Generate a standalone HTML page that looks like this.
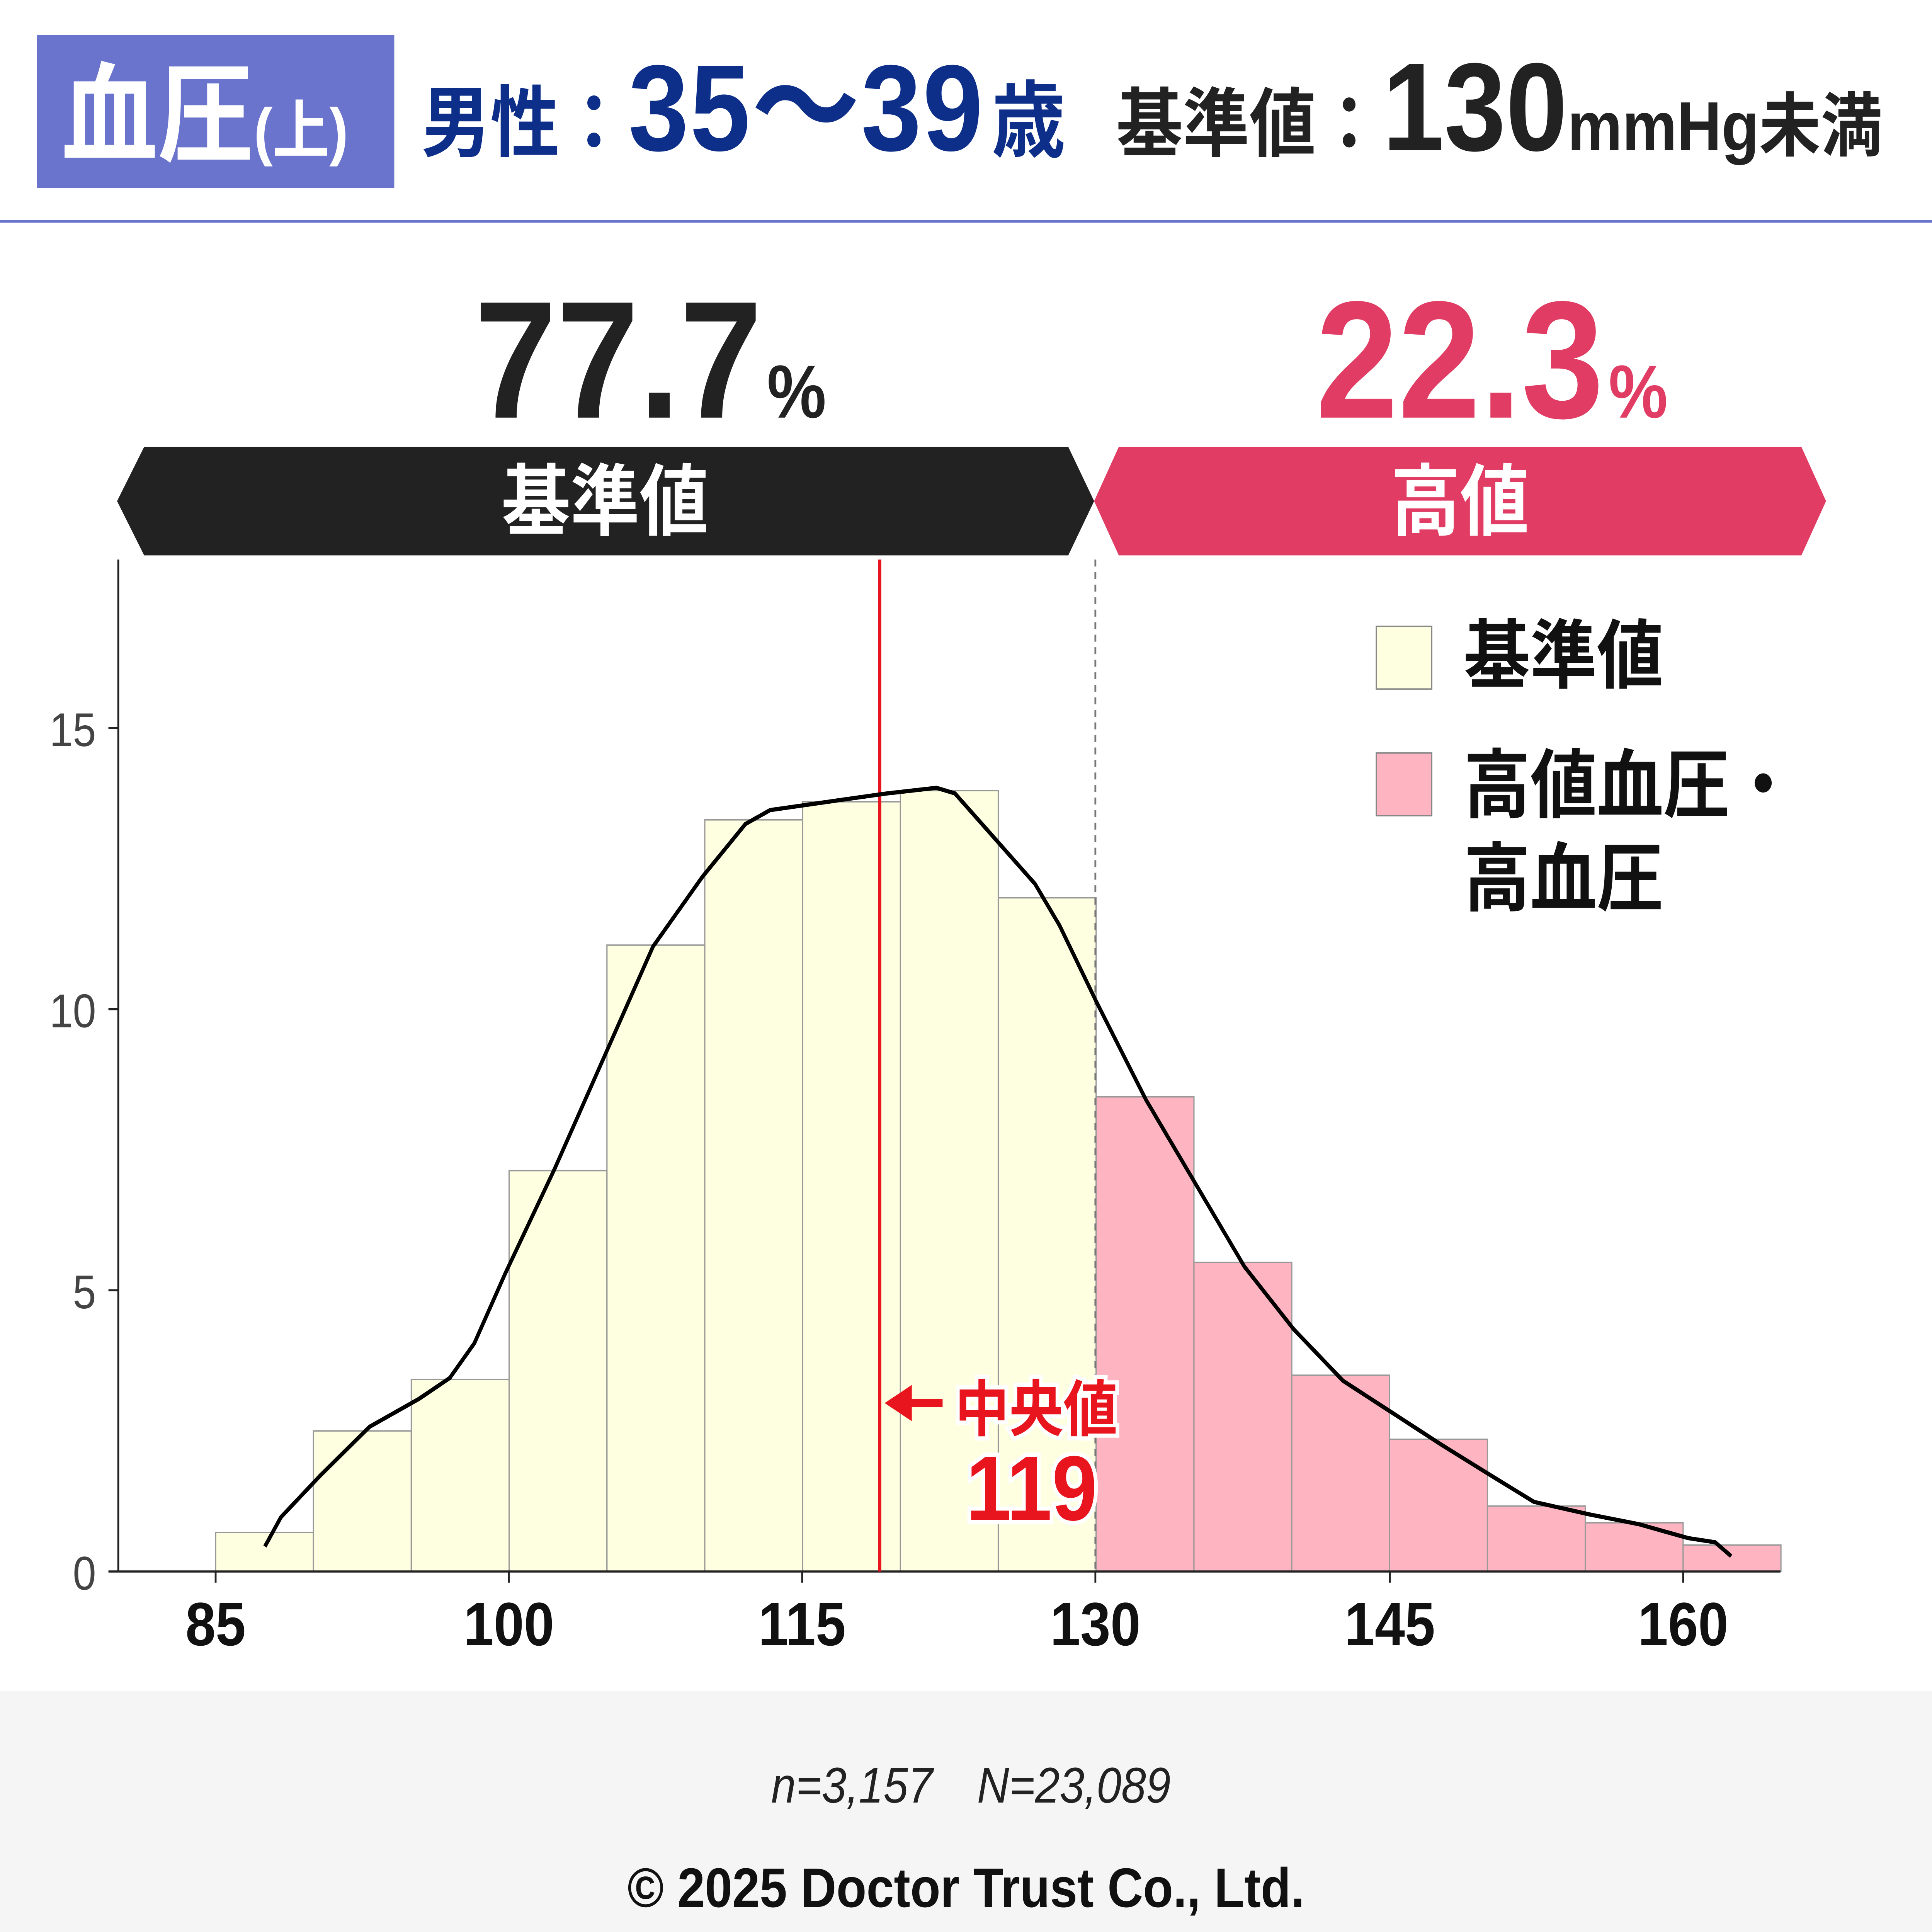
<!DOCTYPE html>
<html><head><meta charset="utf-8"><style>html,body{margin:0;padding:0;background:#fff;width:100%;height:100%;overflow:hidden}svg{display:block;position:fixed;left:0;top:0;width:100vw;height:100vh}</style></head>
<body>
<svg xmlns="http://www.w3.org/2000/svg" viewBox="0 0 1568 1388" preserveAspectRatio="none" font-family="'Liberation Sans','Noto Sans CJK JP',sans-serif">
<rect x="0" y="0" width="1568" height="1388" fill="#fff"/>
<rect x="30" y="25" width="290" height="110" fill="#6b74cc"/>
<text x="50" y="110" font-size="78" font-weight="bold" fill="#fff">血圧<tspan font-size="46">(上)</tspan></text>
<text x="342" y="108" font-size="56" font-weight="bold" fill="#0d2f8a">男性：<tspan font-size="88" letter-spacing="1">35〜39</tspan><tspan font-size="60" dx="6">歳</tspan></text>
<text x="906" y="108" font-size="54" font-weight="bold" fill="#222">基準値：<tspan font-size="90">130</tspan><tspan font-size="50">mmHg未満</tspan></text>
<rect x="0" y="158" width="1568" height="2" fill="#6b74cc"/>
<text x="385" y="300" font-size="120" font-weight="bold" fill="#222" letter-spacing="0">77.7<tspan font-size="54" dx="4">%</tspan></text>
<text x="1068" y="300" font-size="120" font-weight="bold" fill="#e03c64" letter-spacing="0">22.3<tspan font-size="54" dx="4">%</tspan></text>
<polygon points="117,321 867,321 888,360 867,399 117,399 95,360" fill="#222"/>
<polygon points="908,321 1462,321 1482,360 1462,399 908,399 888,360" fill="#e03c64"/>
<text x="491" y="380" font-size="56" font-weight="bold" fill="#fff" text-anchor="middle">基準値</text>
<text x="1185" y="380" font-size="56" font-weight="bold" fill="#fff" text-anchor="middle">高値</text>
<g stroke="#999" stroke-width="1">
<rect x="175" y="1101" width="79.4" height="28" fill="#fefee0"/>
<rect x="254.4" y="1028" width="79.4" height="101" fill="#fefee0"/>
<rect x="333.8" y="991" width="79.4" height="138" fill="#fefee0"/>
<rect x="413.2" y="841" width="79.4" height="288" fill="#fefee0"/>
<rect x="492.6" y="679" width="79.4" height="450" fill="#fefee0"/>
<rect x="572" y="589" width="79.4" height="540" fill="#fefee0"/>
<rect x="651.4" y="576" width="79.4" height="553" fill="#fefee0"/>
<rect x="730.8" y="568" width="79.4" height="561" fill="#fefee0"/>
<rect x="810.2" y="645" width="79.4" height="484" fill="#fefee0"/>
<rect x="889.6" y="788" width="79.4" height="341" fill="#ffb5c1"/>
<rect x="969" y="907" width="79.4" height="222" fill="#ffb5c1"/>
<rect x="1048.4" y="988" width="79.4" height="141" fill="#ffb5c1"/>
<rect x="1127.8" y="1034" width="79.4" height="95" fill="#ffb5c1"/>
<rect x="1207.2" y="1082" width="79.4" height="47" fill="#ffb5c1"/>
<rect x="1286.6" y="1094" width="79.4" height="35" fill="#ffb5c1"/>
<rect x="1366" y="1110" width="79.4" height="19" fill="#ffb5c1"/>
</g>
<line x1="96" y1="402" x2="96" y2="1129" stroke="#222" stroke-width="1.5"/>
<line x1="96" y1="1129" x2="1445" y2="1129" stroke="#222" stroke-width="1.5"/>
<g stroke="#222" stroke-width="1.5">
<line x1="88" y1="1129" x2="96" y2="1129"/><line x1="88" y1="927" x2="96" y2="927"/><line x1="88" y1="725" x2="96" y2="725"/><line x1="88" y1="523" x2="96" y2="523"/>
<line x1="175" y1="1129" x2="175" y2="1137"/><line x1="413" y1="1129" x2="413" y2="1137"/><line x1="651" y1="1129" x2="651" y2="1137"/><line x1="889" y1="1129" x2="889" y2="1137"/><line x1="1128" y1="1129" x2="1128" y2="1137"/><line x1="1366" y1="1129" x2="1366" y2="1137"/>
</g>
<g font-size="34" fill="#444" text-anchor="end">
<text x="78" y="1142">0</text><text x="78" y="940">5</text><text x="78" y="738">10</text><text x="78" y="536">15</text>
</g>
<g font-size="44" font-weight="bold" fill="#111" text-anchor="middle">
<text x="175" y="1182">85</text><text x="413" y="1182">100</text><text x="651" y="1182">115</text><text x="889" y="1182">130</text><text x="1128" y="1182">145</text><text x="1366" y="1182">160</text>
</g>
<line x1="889" y1="402" x2="889" y2="1129" stroke="#777" stroke-width="1.5" stroke-dasharray="5,4"/>
<line x1="714" y1="402" x2="714" y2="1129" stroke="#e8141e" stroke-width="2.5"/>
<polyline fill="none" stroke="#000" stroke-width="3" stroke-linejoin="round" points="215,1111 228,1090 260,1060 300,1025 340,1005 365,990 385,965 410,915 450,840 490,760 530,680 570,630 605,592 625,582 680,575 720,570 760,566 775,570 810,605 840,635 860,665 890,720 930,790 970,850 1010,910 1050,955 1090,992 1130,1015 1170,1038 1210,1060 1245,1079 1290,1088 1330,1095 1370,1105 1392,1108 1405,1118"/>
<line x1="765" y1="1008" x2="735" y2="1008" stroke="#e8141e" stroke-width="6"/>
<polygon points="718,1008 740,995 740,1021" fill="#e8141e"/>
<text x="775" y="1028" font-size="44" font-weight="bold" fill="#e8141e" stroke="#fff" stroke-width="6" paint-order="stroke">中央値</text>
<text x="784" y="1092" font-size="66" font-weight="bold" fill="#e8141e" stroke="#fff" stroke-width="6" paint-order="stroke">119</text>
<rect x="1117" y="450" width="45" height="45" fill="#fefee0" stroke="#888" stroke-width="1"/>
<text x="1188" y="490" font-size="54" font-weight="bold" fill="#111">基準値</text>
<rect x="1117" y="541" width="45" height="45" fill="#ffb5c1" stroke="#888" stroke-width="1"/>
<text x="1188" y="583" font-size="54" font-weight="bold" fill="#111">高値血圧・</text>
<text x="1188" y="650" font-size="54" font-weight="bold" fill="#111">高血圧</text>
<rect x="0" y="1215" width="1568" height="173" fill="#f5f5f5"/>
<text x="788" y="1295" font-size="36" font-style="italic" fill="#222" text-anchor="middle">n=3,157　N=23,089</text>
<text x="784" y="1370" font-size="40" font-weight="bold" fill="#111" text-anchor="middle">© 2025 Doctor Trust Co., Ltd.</text>
</svg>
</body></html>
